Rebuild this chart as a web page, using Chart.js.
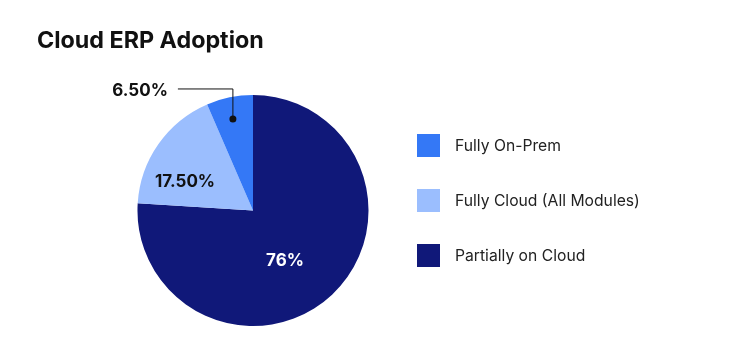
<!DOCTYPE html>
<html><head><meta charset="utf-8">
<script src="https://cdn.jsdelivr.net/npm/chart.js@4"></script>
<style>html,body{margin:0;padding:0;background:#fff}#wrap{width:750px;height:358px;position:relative}</style>
</head><body><div id="wrap"><canvas id="c"></canvas></div>
<script>
const categories = ['Fully On-Prem', 'Fully Cloud (All Modules)', 'Partially on Cloud'];
const values = [6.5, 17.5, 76];
const valueLabels = ['6.50%', '17.50%', '76%'];
const colors = ['#3478F6', '#9BBEFE', '#101879'];

const FONT = 'Inter';
// Chart.js draws clockwise from the top; the reference lists slices counter-clockwise
const order = values.map((v, i) => i).reverse();

const labelPlace = [
  {frac: 0.47, rf: 0.81, leader: true, color: '#111111'},
  {frac: 0.31, rf: 0.64, leader: false, color: '#111111'},
  {frac: 0.54, rf: 0.52, leader: false, color: '#ffffff'}
];

const sliceLabels = {
  id: 'sliceLabels',
  afterDatasetsDraw(chart) {
    const ctx = chart.ctx;
    const meta = chart.getDatasetMeta(0);
    meta.data.forEach((arc, i) => {
      const orig = order[i];
      const p = labelPlace[orig];
      const {x, y, startAngle, endAngle, outerRadius} = arc.getProps(['x','y','startAngle','endAngle','outerRadius'], true);
      const a = startAngle + p.frac * (endAngle - startAngle);
      const px = x + Math.cos(a) * outerRadius * p.rf;
      const py = y + Math.sin(a) * outerRadius * p.rf;
      ctx.save();
      ctx.font = `bold 17px ${FONT}`;
      ctx.textBaseline = 'middle';
      if (p.leader) {
        const topY = y - outerRadius - 6;
        const leftX = px - 55;
        ctx.strokeStyle = '#111111';
        ctx.lineWidth = 1;
        ctx.beginPath();
        ctx.moveTo(px, py);
        ctx.lineTo(px, topY);
        ctx.lineTo(leftX, topY);
        ctx.stroke();
        ctx.fillStyle = '#111111';
        ctx.beginPath();
        ctx.arc(px, py, 3.5, 0, Math.PI * 2);
        ctx.fill();
        ctx.textAlign = 'right';
        ctx.fillStyle = p.color;
        ctx.fillText(valueLabels[orig], leftX - 10, topY + 2);
      } else {
        ctx.textAlign = 'center';
        ctx.fillStyle = p.color;
        ctx.fillText(valueLabels[orig], px, py);
      }
      ctx.restore();
    });
  }
};

const sideLegend = {
  id: 'sideLegend',
  afterDraw(chart) {
    const ctx = chart.ctx;
    ctx.save();
    categories.forEach((name, i) => {
      const top = 134 + i * 55;
      ctx.fillStyle = colors[i];
      ctx.fillRect(417, top, 23, 23);
      ctx.fillStyle = '#222222';
      ctx.font = `15.7px ${FONT}`;
      ctx.textBaseline = 'middle';
      ctx.textAlign = 'left';
      ctx.fillText(name, 455, top + 12);
    });
    ctx.restore();
  }
};

new Chart(document.getElementById('c'), {
  type: 'pie',
  data: {
    labels: order.map(i => categories[i]),
    datasets: [{
      data: order.map(i => values[i]),
      backgroundColor: order.map(i => colors[i]),
      borderWidth: 0,
      hoverOffset: 0
    }]
  },
  options: {
    responsive: true,
    maintainAspectRatio: false,
    animation: false,
    layout: {padding: {left: 37, right: 281, top: 0, bottom: 32}},
    plugins: {
      legend: {display: false},
      tooltip: {enabled: false},
      title: {
        display: true,
        text: 'Cloud ERP Adoption',
        align: 'start',
        color: '#111111',
        font: {family: FONT, size: 23.3, weight: 'bold'},
        padding: {top: 27, bottom: 40}
      }
    }
  },
  plugins: [sliceLabels, sideLegend]
});
</script>
</body></html>
